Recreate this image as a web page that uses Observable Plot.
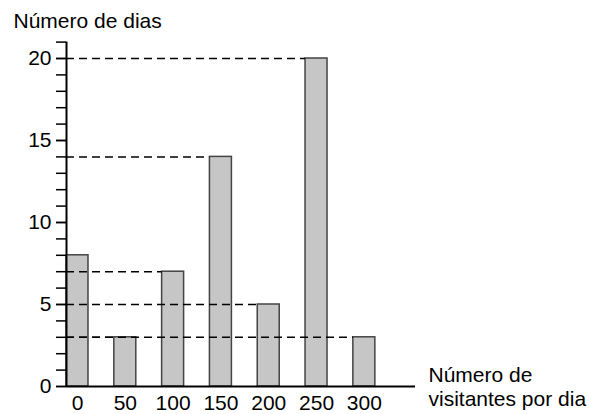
<!DOCTYPE html>
<html><head><meta charset="utf-8">
<script src="https://cdn.jsdelivr.net/npm/d3@7"></script>
<script src="https://cdn.jsdelivr.net/npm/@observablehq/plot@0.6"></script>
<style>body{margin:0;background:#fff}</style>
</head><body><div id="chart"></div>
<script>
const visitors = [0, 50, 100, 150, 200, 250, 300];
const days = [8, 3, 7, 14, 5, 20, 3];
const yLabelTicks = [0, 5, 10, 15, 20];
const yMinorTicks = d3.range(0, 22);
const yTitle = "Número de dias";
const xTitle = "Número de\nvisitantes por dia";

const half = 11.5;
const data = visitors.map((v, i) => ({v, d: days[i]}));
const xMin = -half, xMax = 353.5;
const font = "'Liberation Sans', Arial, sans-serif";
const fs = 21;

const chart = Plot.plot({
  width: 589, height: 414,
  marginLeft: 66, marginRight: 174, marginTop: 41.6, marginBottom: 28,
  style: {fontFamily: font, fontSize: fs + "px", color: "#000", background: "#fff"},
  x: {type: "linear", domain: [xMin, xMax]},
  y: {domain: [0, 21]},
  marks: [
    Plot.rectY(data, {x1: d => d.v - half, x2: d => d.v + half, y: "d", fill: "#c6c6c6", stroke: "#444", strokeWidth: 1.5}),
    Plot.ruleY(data.filter(d => d.v > 0), {y: "d", x1: xMin, x2: d => d.v - half, stroke: "#000", strokeWidth: 1.5, strokeDasharray: "8,5"}),
    Plot.axisY({ticks: yMinorTicks, tickFormat: () => "", tickSize: 10, strokeWidth: 1.5, label: null}),
    Plot.axisY({ticks: yLabelTicks, tickSize: 10, tickPadding: 5, strokeWidth: 1.5, label: null, fontSize: fs}),
    Plot.axisX({ticks: visitors, tickSize: 0, tickPadding: 9, label: null, fontSize: fs}),
    Plot.ruleX([xMin], {y1: 0, y2: 21, stroke: "#000", strokeWidth: 2}),
    Plot.ruleY([0], {x1: xMin, x2: xMax, stroke: "#000", strokeWidth: 2}),
    Plot.text([yTitle], {frameAnchor: "top-left", dx: -53, dy: -29, textAnchor: "start", fontSize: fs}),
    Plot.text([xTitle], {frameAnchor: "bottom-right", dx: 13, dy: 0, textAnchor: "start", lineAnchor: "middle", fontSize: fs, lineHeight: 1.15})
  ]
});
document.getElementById("chart").append(chart);
</script></body></html>
